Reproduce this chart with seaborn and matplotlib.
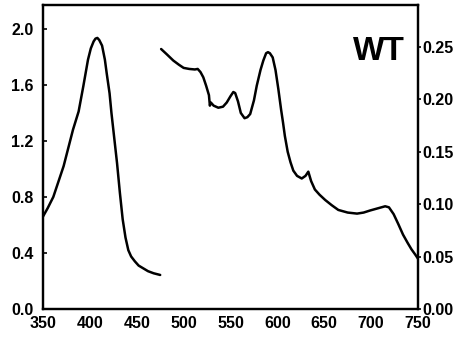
import matplotlib
matplotlib.use("Agg")
import matplotlib.pyplot as plt
import seaborn as sns
import pandas as pd

sns.set_style("white")
plt.rcParams['font.family'] = ['Liberation Sans', 'DejaVu Sans']
plt.rcParams['text.color'] = 'black'
plt.rcParams['xtick.color'] = 'black'
plt.rcParams['ytick.color'] = 'black'
plt.rcParams['axes.labelcolor'] = 'black'

# Soret band (left axis)
wl_left = [350, 355, 361, 366, 372, 377, 382, 388, 393, 398, 401, 404, 406, 408, 410, 413, 416, 418, 421, 423, 426, 429, 432, 435, 438, 441, 444, 448, 452, 457, 462, 468, 475]
abs_left = [0.66, 0.72, 0.80, 0.90, 1.02, 1.15, 1.28, 1.41, 1.59, 1.78, 1.86, 1.91, 1.93, 1.935, 1.92, 1.88, 1.78, 1.68, 1.54, 1.40, 1.22, 1.04, 0.83, 0.64, 0.51, 0.42, 0.375, 0.34, 0.31, 0.29, 0.27, 0.255, 0.243]

# Visible region (right axis)
wl_right = [476, 482, 489, 495, 500, 506, 512, 515, 518, 521, 524, 527, 528, 529, 532, 537, 542, 546, 550, 553, 555, 558, 561, 565, 568, 571, 575, 578, 582, 585, 588, 590, 592, 595, 598, 601, 604, 606, 608, 611, 614, 617, 621, 626, 630, 633, 636, 640, 645, 651, 658, 665, 675, 685, 692, 699, 707, 715, 719, 724, 729, 734, 739, 743, 747, 750]
abs_right = [0.248, 0.243, 0.237, 0.233, 0.230, 0.229, 0.2285, 0.229, 0.226, 0.221, 0.213, 0.204, 0.194, 0.197, 0.194, 0.192, 0.193, 0.197, 0.203, 0.207, 0.206, 0.198, 0.187, 0.182, 0.183, 0.186, 0.199, 0.213, 0.228, 0.237, 0.244, 0.245, 0.244, 0.240, 0.228, 0.210, 0.190, 0.178, 0.165, 0.150, 0.140, 0.132, 0.127, 0.1245, 0.127, 0.131, 0.122, 0.114, 0.109, 0.104, 0.099, 0.0945, 0.092, 0.091, 0.092, 0.094, 0.096, 0.098, 0.097, 0.0905, 0.081, 0.071, 0.063, 0.057, 0.052, 0.048]

xticks = [350, 400, 450, 500, 550, 600, 650, 700, 750]
yticks_left = [0.0, 0.4, 0.8, 1.2, 1.6, 2.0]
yticks_right = [0.00, 0.05, 0.10, 0.15, 0.20, 0.25]

df_l = pd.DataFrame({"wl": wl_left, "a": abs_left})
df_r = pd.DataFrame({"wl": wl_right, "a": abs_right})

fig = plt.figure(figsize=(4.63, 3.45), dpi=100)
ax = fig.add_axes([43/463, 1 - 309/345, (418-43)/463, (309-5)/345])
ax2 = ax.twinx()

sns.lineplot(data=df_l, x="wl", y="a", ax=ax, color="black", linewidth=1.8,
             solid_joinstyle="round", solid_capstyle="round")
sns.lineplot(data=df_r, x="wl", y="a", ax=ax2, color="black", linewidth=1.8,
             solid_joinstyle="round", solid_capstyle="round")

ax.set_xlim(350, 750)
ax.set_ylim(0, 2.17)
ax2.set_ylim(0, 0.29)
ax.set_xticks(xticks)
ax.set_yticks(yticks_left)
ax2.set_yticks(yticks_right)
ax.set_yticklabels([f"{v:.1f}" for v in yticks_left])
ax2.set_yticklabels([f"{v:.2f}" for v in yticks_right])
ax.set_xlabel("")
ax.set_ylabel("")
ax2.set_ylabel("")

for a in (ax, ax2):
    for s in a.spines.values():
        s.set_linewidth(1.6)
        s.set_color("black")
ax.tick_params(axis="both", direction="in", length=3, width=1.2, labelsize=11.5,
               colors="black")
ax.tick_params(axis="y", pad=7)
ax.tick_params(axis="x", pad=5)
ax2.tick_params(axis="y", direction="out", length=2.5, width=1.2, labelsize=11.5, pad=1,
                colors="black")
for lab in ax.get_xticklabels() + ax.get_yticklabels() + ax2.get_yticklabels():
    lab.set_fontweight("bold")

ax.text(0.965, 0.819, "WT", transform=ax.transAxes, fontsize=24, fontweight="bold",
        ha="right", va="baseline", color="black")

fig.savefig("out.png", dpi=100)
